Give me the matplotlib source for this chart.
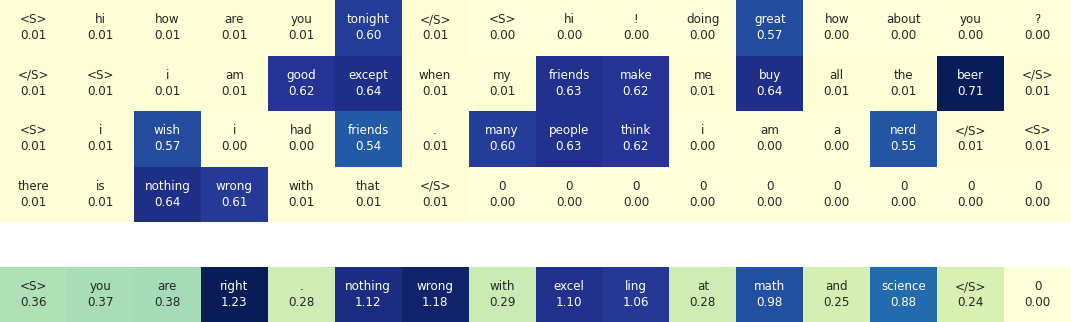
import numpy as np
import matplotlib
matplotlib.use("Agg")
import matplotlib.pyplot as plt
import seaborn as sns

# attention over the context turns (4 rows x 16 tokens)
ctx_words = [
    ["<S>", "hi", "how", "are", "you", "tonight", "</S>", "<S>", "hi", "!", "doing", "great", "how", "about", "you", "?"],
    ["</S>", "<S>", "i", "am", "good", "except", "when", "my", "friends", "make", "me", "buy", "all", "the", "beer", "</S>"],
    ["<S>", "i", "wish", "i", "had", "friends", ".", "many", "people", "think", "i", "am", "a", "nerd", "</S>", "<S>"],
    ["there", "is", "nothing", "wrong", "with", "that", "</S>", "0", "0", "0", "0", "0", "0", "0", "0", "0"],
]
ctx_vals = [
    [0.01, 0.01, 0.01, 0.01, 0.01, 0.60, 0.01, 0.00, 0.00, 0.00, 0.00, 0.57, 0.00, 0.00, 0.00, 0.00],
    [0.01, 0.01, 0.01, 0.01, 0.62, 0.64, 0.01, 0.01, 0.63, 0.62, 0.01, 0.64, 0.01, 0.01, 0.71, 0.01],
    [0.01, 0.01, 0.57, 0.00, 0.00, 0.54, 0.01, 0.60, 0.63, 0.62, 0.00, 0.00, 0.00, 0.55, 0.01, 0.01],
    [0.01, 0.01, 0.64, 0.61, 0.01, 0.01, 0.01, 0.00, 0.00, 0.00, 0.00, 0.00, 0.00, 0.00, 0.00, 0.00],
]

# response tokens
resp_words = ["<S>", "you", "are", "right", ".", "nothing", "wrong", "with", "excel", "ling",
              "at", "math", "and", "science", "</S>", "0"]
resp_vals = [0.36, 0.37, 0.38, 1.23, 0.28, 1.12, 1.18, 0.29, 1.10, 1.06,
             0.28, 0.98, 0.25, 0.88, 0.24, 0.00]

W, H = 1071, 322
fig = plt.figure(figsize=(W / 100, H / 100), dpi=100)

ax1 = fig.add_axes([0, (H - 222) / H, 1, 222 / H])
ax2 = fig.add_axes([0, 0, 1, 55 / H])

kw = {"fontsize": 8.6, "linespacing": 1.3}

cv = np.array(ctx_vals)
ca = np.array([[w + "\n" + "%.2f" % v for w, v in zip(ws, vs)] for ws, vs in zip(ctx_words, ctx_vals)])
sns.heatmap(cv, ax=ax1, cmap="YlGnBu", annot=ca, fmt="", cbar=False,
            xticklabels=False, yticklabels=False, annot_kws=kw)

rv = np.array([resp_vals])
ra = np.array([[w + "\n" + "%.2f" % v for w, v in zip(resp_words, resp_vals)]])
sns.heatmap(rv, ax=ax2, cmap="YlGnBu", annot=ra, fmt="", cbar=False,
            xticklabels=False, yticklabels=False, annot_kws=kw)

fig.savefig("out.png", dpi=100)
